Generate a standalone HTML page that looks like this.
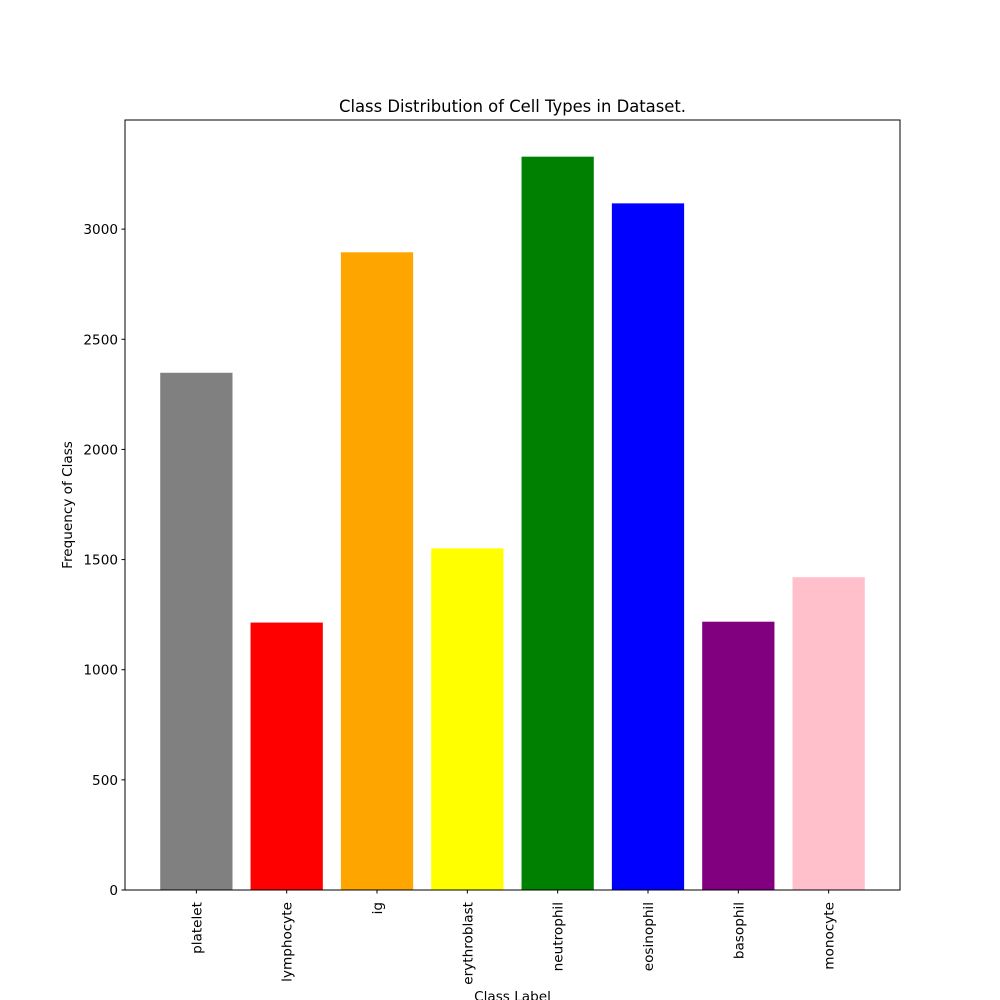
<!DOCTYPE html>
<html><head><meta charset="utf-8"><style>
body{margin:0;background:#fff;}
svg{display:block;font-family:"DejaVu Sans","Liberation Sans",sans-serif;}
</style></head><body>
<svg id="chart" width="1000" height="1000">
<rect width="1000" height="1000" fill="#fff"/>
<text x="512.5" y="112" font-size="16.4" text-anchor="middle">Class Distribution of Cell Types in Dataset.</text>
<text x="512.5" y="1001" font-size="13.6" text-anchor="middle">Class Label</text>
<text transform="translate(72,505) rotate(-90)" font-size="13.6" text-anchor="middle">Frequency of Class</text>
<g id="bars"></g><g id="ticks"></g>
<rect x="125" y="120" width="775" height="770" fill="none" stroke="#000" stroke-width="1"/>
</svg>
<script>
const categories=["platelet","lymphocyte","ig","erythroblast","neutrophil","eosinophil","basophil","monocyte"];
const values=[2348,1214,2895,1551,3329,3117,1218,1420];
const colors=["gray","red","orange","yellow","green","blue","purple","pink"];
const yTicks=[0,500,1000,1500,2000,2500,3000];
const NS="http://www.w3.org/2000/svg";
const L=125,R=900,T=120,B=890;
const ymax=Math.max(...values)*1.05;
const n=categories.length;
const xmin=-0.4-(n-0.2)*0.05, xmax=n-1+0.4+(n-0.2)*0.05;
const X=v=>L+(v-xmin)/(xmax-xmin)*(R-L);
const Y=v=>B-v/ymax*(B-T);
const bars=document.getElementById('bars'),ticks=document.getElementById('ticks');
function mk(t,a,p){const e=document.createElementNS(NS,t);for(const k in a)e.setAttribute(k,a[k]);p.appendChild(e);return e;}
values.forEach((v,i)=>{
 const r=mk('rect',{x:X(i-0.4),y:Y(v),width:X(i+0.4)-X(i-0.4),height:B-Y(v),fill:colors[i]},bars);
 
 
 const tk=mk('line',{x1:X(i),x2:X(i),y1:B,y2:B+3.5,stroke:'#000'},ticks);
 
 
 const t=mk('text',{transform:`translate(${X(i)+5},${B+12}) rotate(-90)`,'font-size':13.6,'text-anchor':'end'},ticks);
 t.textContent=categories[i];
 
 
});
yTicks.forEach(v=>{
 const tk=mk('line',{x1:L-3.5,x2:L,y1:Y(v),y2:Y(v),stroke:'#000'},ticks);
 
 
 const t=mk('text',{x:L-7,y:Y(v)+5,'font-size':13.6,'text-anchor':'end'},ticks);
 t.textContent=v;
 
 
});
</script>
</body></html>
